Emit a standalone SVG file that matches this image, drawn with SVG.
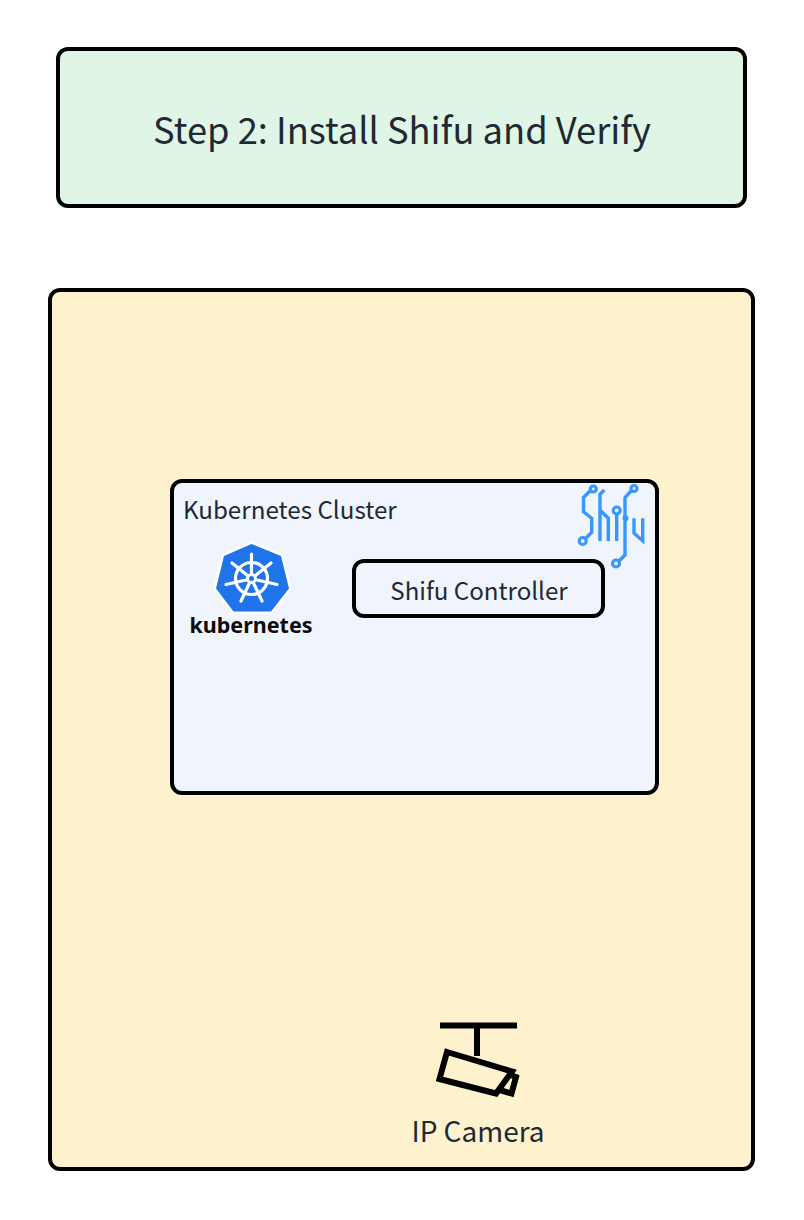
<svg xmlns="http://www.w3.org/2000/svg" width="804" height="1220" viewBox="0 0 804 1220">
<style>
.box{stroke:#000;stroke-width:4}
.t{font-family:"Noto Sans CJK SC","Noto Sans",sans-serif;fill:#1f2933}
.s{fill:none;stroke:#3797ff;stroke-width:3.4;stroke-linejoin:miter}
.c{fill:#eef3fc;stroke:#3797ff;stroke-width:3.2}
.w{fill:none;stroke:#fff;stroke-width:3.2;stroke-linecap:round}
.k{fill:none;stroke:#000;stroke-width:6}
</style>
<rect width="804" height="1220" fill="#fff"/>
<g id="title">
<rect class="box" x="58" y="49" width="687" height="157" rx="10" fill="#dff5e6"/>
<text class="t" x="402" y="144" font-size="36.300" text-anchor="middle">Step 2: Install Shifu and Verify</text>
</g>
<g id="environment">
<rect class="box" x="50" y="290" width="703" height="879" rx="10" fill="#fdf1ce"/>
</g>
<g id="cluster">
<rect class="box" x="172" y="481" width="485" height="312" rx="10" fill="#eff4fd"/>
<text class="t" x="183" y="519" font-size="24.200">Kubernetes Cluster</text>
</g>
<g id="kubernetes-logo">
<path d="M251.500 541L283 554 291.500 589 272 614H232L213.500 589 222 554Z" fill="#fff"/>
<path d="M251.500 544L281 556 289 588.500 271 611.500H233.500L216 588.500 224 556Z" fill="#1f74ec"/>
<circle class="w" cx="251.500" cy="578.500" r="16"/>
<path class="w" d="M251.500 554V573M232 563L247 575M271 563L256 575M226 584.500L246 580M277 584.500L257 580M241 601L249 584M262 601L254 584"/>
<circle cx="251.500" cy="578.500" r="5.500" fill="#fff"/>
<circle cx="251.500" cy="578.500" r="2.500" fill="#1f74ec"/>
<text x="251" y="633" font-family="'Noto Sans','Open Sans',sans-serif" font-weight="700" font-size="21.500" text-anchor="middle" fill="#0b0b0b">kubernetes</text>
</g>
<g id="shifu-logo">
<path class="s" d="M591 490L583.500 497.500V511.700L591.700 518.300V532.300L583.300 540.700"/>
<circle class="c" cx="593.300" cy="489" r="3"/>
<circle class="c" cx="582.700" cy="541" r="3.500"/>
<path class="s" d="M604.300 490L600 494.300V541M600 510L608.300 518.300V541M616.700 511V541"/>
<circle class="c" cx="616.700" cy="510.500" r="3.500"/>
<path class="s" d="M632 490L625 497.700V555L617 563"/>
<circle class="c" cx="634" cy="488.500" r="3"/>
<circle class="c" cx="616" cy="563.500" r="3.500"/>
<circle cx="625.500" cy="518.300" r="3" fill="#3797ff"/>
<path class="s" d="M634 518.300V533.300L642.700 540.700V518.300"/>
</g>
<g id="shifu-controller">
<rect class="box" x="354" y="561" width="249" height="55" rx="10" fill="#eff4fd"/>
<text class="t" x="479" y="600" font-size="24.100" text-anchor="middle">Shifu Controller</text>
</g>
<g id="ip-camera">
<path class="k" d="M440 1025.500H517M477 1025.500V1056"/>
<path class="k" d="M447 1052L512 1071.500 496 1093.500 439.500 1079Z" stroke-linejoin="miter"/>
<path class="k" d="M512 1075.500L516 1077 511.500 1093.500 498 1089.500"/>
<text class="t" x="478" y="1142" font-size="28" text-anchor="middle">IP Camera</text>
</g>
<g id="connectors"></g>
</svg>
